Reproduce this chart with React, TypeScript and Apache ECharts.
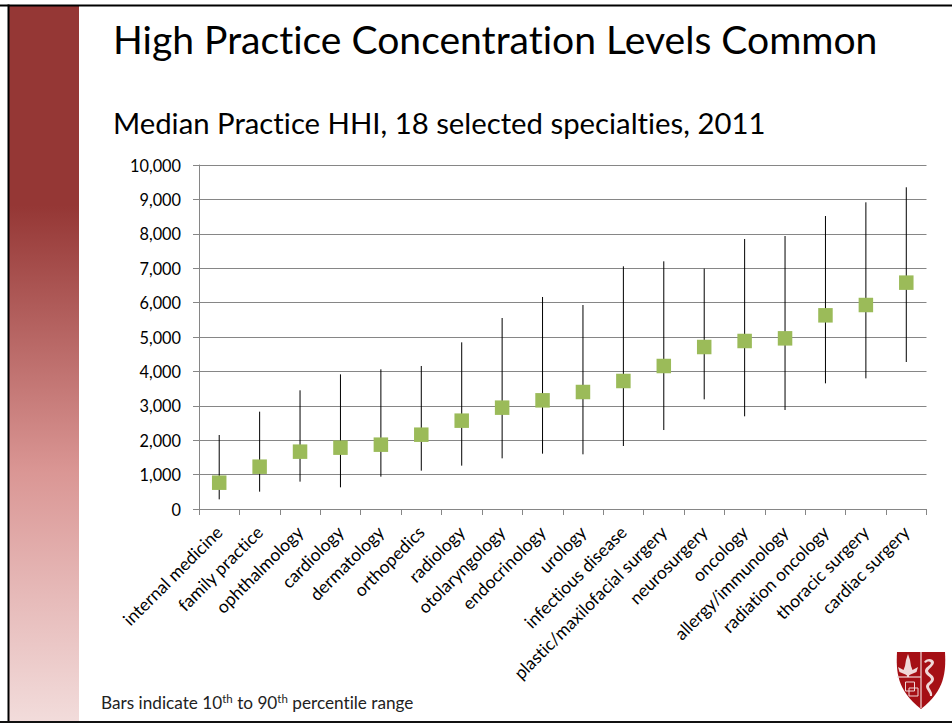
import React, { useEffect, useRef } from "react";
import * as echarts from "echarts";

const categories = ["internal medicine","family practice","ophthalmology","cardiology","dermatology","orthopedics","radiology","otolaryngology","endocrinology","urology","infectious disease","plastic/maxilofacial surgery","neurosurgery","oncology","allergy/immunology","radiation oncology","thoracic surgery","cardiac surgery"];
const medians = [765,1230,1667,1783,1870,2160,2568,2946,3159,3401,3721,4157,4709,4884,4961,5630,5930,6580];
const p10 = [281,504,795,630,940,1114,1260,1473,1609,1589,1831,2296,3188,2694,2878,3653,3798,4273];
const p90 = [2151,2829,3450,3914,4060,4157,4845,5552,6163,5930,7054,7200,6987,7849,7936,8517,8915,9352];
const titleText = "High Practice Concentration Levels Common";
const subtitleText = "Median Practice HHI, 18 selected specialties, 2011";

const SHIELD = "M0 0 L48 0 C49 20 48 38 24 57 C0 38 -1 20 0 0 Z";
const SNAKE = "M0 3 C2 -1 9 -1 10 3 C10 7 5 9 4 12 C5 15 10 16 10 20 C10 24 5 25 5 28 C6 31 9 33 8 37 L6 37 C6 33 2 31 2 27 C3 23 7 23 7 20 C6 17 1 16 1 12 C1 8 6 7 7 4 C6 2 3 2 2 4 Z";
const TREE = "M8.5 0 L10.5 6 L11.5 12 L13 16 L18.5 13 L17 18 L11 20.5 L9.5 21.5 L9.5 23 L7.5 23 L7.5 21.5 L6 20.5 L0 18 L-1.5 13 L4 16 L5.5 12 L6.5 6 Z";
echarts.graphic.registerShape("shieldShape", echarts.graphic.extendPath(SHIELD, {}) as any);
echarts.graphic.registerShape("snakeShape", echarts.graphic.extendPath(SNAKE, {}) as any);
echarts.graphic.registerShape("treeShape", echarts.graphic.extendPath(TREE, {}) as any);

export default function App() {
  const ref = useRef<HTMLDivElement>(null);
  useEffect(() => {
    document.body.style.margin = "0";
    const chart = echarts.init(ref.current!, undefined, { renderer: "svg" });
    const font = "Lato";
    const logoLine = "#f0d8d8";
    chart.setOption({
      animation: false,
      backgroundColor: "#fff",
      textStyle: { fontFamily: font },
      title: [
        { text: titleText, left: 113, top: 19, padding: 0, textStyle: { fontFamily: font, fontSize: 39.1, fontWeight: "normal", color: "#000" } },
        { text: subtitleText, left: 113, top: 108, padding: 0, textStyle: { fontFamily: font, fontSize: 29.3, fontWeight: "normal", color: "#000" } },
      ],
      grid: { left: 199, right: 25.5, top: 165, bottom: 214, containLabel: false },
      xAxis: {
        type: "category",
        data: categories,
        axisLine: { lineStyle: { color: "#868686", width: 1 } },
        axisTick: { show: true, length: 6, alignWithLabel: false, lineStyle: { color: "#868686" } },
        axisLabel: { interval: 0, rotate: 45, margin: 20, fontFamily: font, fontSize: 17.5, color: "#000" },
      },
      yAxis: {
        type: "value",
        min: 0,
        max: 10000,
        interval: 1000,
        axisLine: { show: true, lineStyle: { color: "#868686", width: 1 } },
        axisTick: { show: true, length: 6, lineStyle: { color: "#868686" } },
        splitLine: { show: true, lineStyle: { color: "#868686", width: 1 } },
        axisLabel: { margin: 18, fontFamily: font, fontSize: 16.3, color: "#000", formatter: (v: number) => v.toLocaleString("en-US") },
      },
      series: [
        {
          type: "custom",
          z: 3,
          data: categories.map((_, i) => [i, p10[i], p90[i]]),
          encode: { x: 0, y: [1, 2] },
          renderItem: (_p: any, api: any) => {
            const a = api.coord([api.value(0), api.value(1)]);
            const b = api.coord([api.value(0), api.value(2)]);
            return { type: "line", shape: { x1: a[0], y1: a[1], x2: b[0], y2: b[1] }, style: { stroke: "#000", lineWidth: 1 } };
          },
        },
        {
          type: "scatter",
          z: 4,
          symbol: "rect",
          symbolSize: 14.5,
          itemStyle: { color: "#9BBB59", opacity: 1 },
          data: medians,
        },
      ],
      graphic: [
        { type: "rect", z: -1, shape: { x: 9, y: 5, width: 70, height: 717 }, style: { fill: new echarts.graphic.LinearGradient(0, 0, 0, 1, [
          { offset: 0, color: "#953735" },
          { offset: 0.28, color: "#953735" },
          { offset: 0.65, color: "#DA9694" },
          { offset: 0.82, color: "#E6B9B8" },
          { offset: 1, color: "#F2DCDB" },
        ]) } },
        { type: "line", shape: { x1: 0, y1: 5.5, x2: 952, y2: 5.5 }, style: { stroke: "#000", lineWidth: 2 } },
        { type: "line", shape: { x1: 8.5, y1: 4.5, x2: 8.5, y2: 723 }, style: { stroke: "#000", lineWidth: 2 } },
        { type: "line", shape: { x1: 0, y1: 722, x2: 952, y2: 722 }, style: { stroke: "#111", lineWidth: 2 } },
        {
          type: "text", left: 101, top: 692,
          style: {
            text: "{a|Bars indicate 10}{s|th}{a| to 90}{s|th}{a| percentile range}",
            rich: {
              a: { fontFamily: font, fontSize: 17.2, fill: "#222", lineHeight: 20 },
              s: { fontFamily: font, fontSize: 11.5, fill: "#222", verticalAlign: "top", lineHeight: 20 },
            },
          },
        },
        { type: "shieldShape", x: 897, y: 652, style: { fill: "#A50F15" } },
        { type: "line", shape: { x1: 921, y1: 652, x2: 921, y2: 708 }, style: { stroke: logoLine, lineWidth: 1.2 } },
        { type: "line", shape: { x1: 897, y1: 677, x2: 921, y2: 677 }, style: { stroke: logoLine, lineWidth: 1.2 } },
        { type: "treeShape", x: 899.5, y: 654, style: { fill: logoLine } },
        { type: "snakeShape", x: 924, y: 659, style: { fill: logoLine } },
        { type: "rect", shape: { x: 905.5, y: 682, width: 9, height: 9 }, style: { fill: "none", stroke: logoLine, lineWidth: 1 } },
        { type: "rect", shape: { x: 909, y: 688, width: 9, height: 8 }, style: { fill: "none", stroke: logoLine, lineWidth: 1 } },
      ],
    });
    return () => chart.dispose();
  }, []);
  return <div ref={ref} style={{ width: 952, height: 723, fontVariantLigatures: "none" }} />;
}
